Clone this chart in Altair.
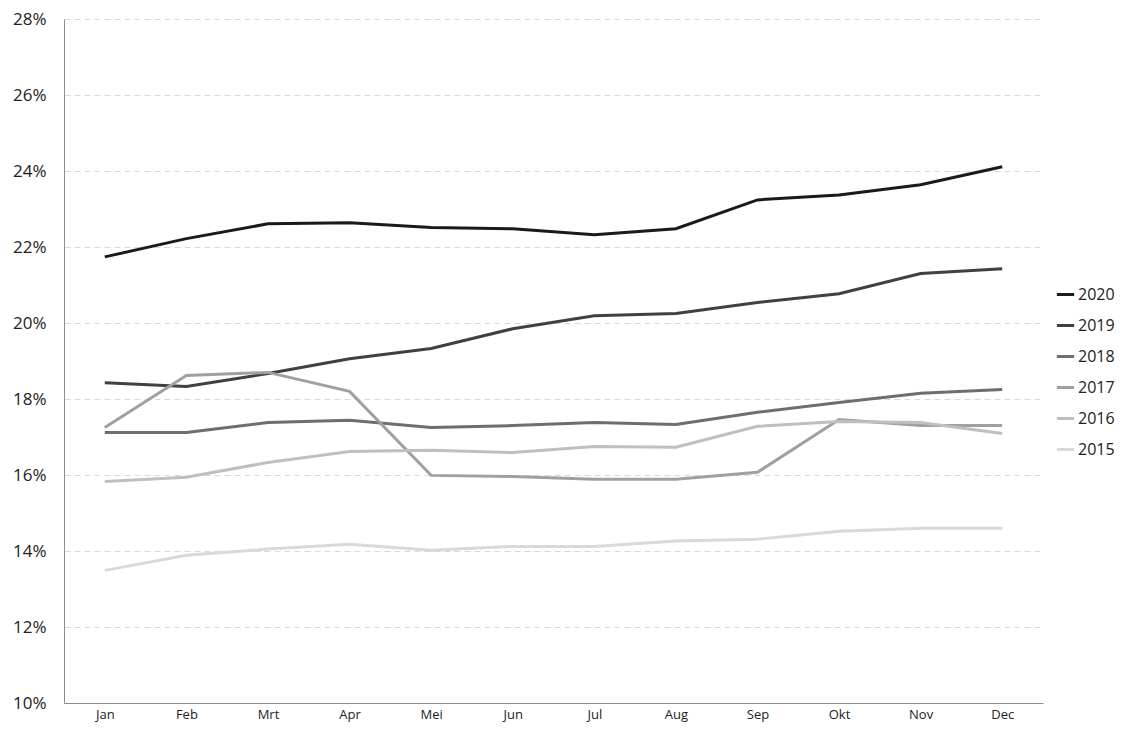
import altair as alt
import pandas as pd

months = ["Jan", "Feb", "Mrt", "Apr", "Mei", "Jun", "Jul", "Aug", "Sep", "Okt", "Nov", "Dec"]
years = ["2020", "2019", "2018", "2017", "2016", "2015"]
colors = ["#1a1a1a", "#404040", "#6e6e6e", "#a0a0a0", "#bfbfbf", "#d9d9d9"]

v2020 = [21.74, 22.22, 22.61, 22.64, 22.51, 22.48, 22.32, 22.48, 23.24, 23.37, 23.64, 24.11]
v2019 = [18.43, 18.33, 18.67, 19.06, 19.33, 19.85, 20.19, 20.25, 20.54, 20.77, 21.30, 21.43]
v2018 = [17.12, 17.12, 17.38, 17.44, 17.25, 17.30, 17.38, 17.33, 17.65, 17.91, 18.15, 18.25]
v2017 = [17.25, 18.62, 18.70, 18.20, 15.99, 15.96, 15.89, 15.89, 16.07, 17.46, 17.30, 17.30]
v2016 = [15.83, 15.94, 16.33, 16.62, 16.65, 16.59, 16.75, 16.73, 17.28, 17.41, 17.38, 17.09]
v2015 = [13.49, 13.89, 14.05, 14.18, 14.02, 14.12, 14.12, 14.26, 14.31, 14.52, 14.60, 14.60]

series = dict(zip(years, [v2020, v2019, v2018, v2017, v2016, v2015]))
rows = []
for y, vals in series.items():
    for m, v in zip(months, vals):
        rows.append({"Maand": m, "Jaar": y, "Waarde": v / 100})
df = pd.DataFrame(rows)

chart = alt.Chart(df).mark_line(strokeWidth=3).encode(
    x=alt.X("Maand:N", sort=months, title=None,
            scale=alt.Scale(type="point", padding=0.5),
            axis=alt.Axis(labelAngle=0, labelFontSize=13, labelPadding=5, ticks=False,
                          domainColor="#8c8c8c", labelColor="#222", grid=False)),
    y=alt.Y("Waarde:Q", title=None,
            scale=alt.Scale(domain=[0.10, 0.28], nice=False),
            axis=alt.Axis(format=".0%", values=[0.10, 0.12, 0.14, 0.16, 0.18, 0.20, 0.22, 0.24, 0.26, 0.28],
                          labelFontSize=17, labelPadding=18, ticks=False,
                          domainColor="#8c8c8c", labelColor="#222",
                          grid=True, gridColor="#d9d9d9", gridDash=[6, 4], gridWidth=1)),
    color=alt.Color("Jaar:N", sort=years, title=None,
                    scale=alt.Scale(domain=years, range=colors),
                    legend=alt.Legend(orient="none", legendX=991, legendY=265,
                                      symbolType="stroke", symbolStrokeWidth=3, symbolSize=300,
                                      labelFontSize=16, labelColor="#222", rowPadding=12,
                                      labelOffset=2)),
).properties(
    width=979, height=684,
    autosize=alt.AutoSizeParams(type="none"),
    padding={"left": 56, "top": 11, "right": 73, "bottom": 20},
).configure(font="Open Sans").configure_view(stroke=None)

chart.save("out.html", embed_options={"renderer": "svg", "actions": False})
